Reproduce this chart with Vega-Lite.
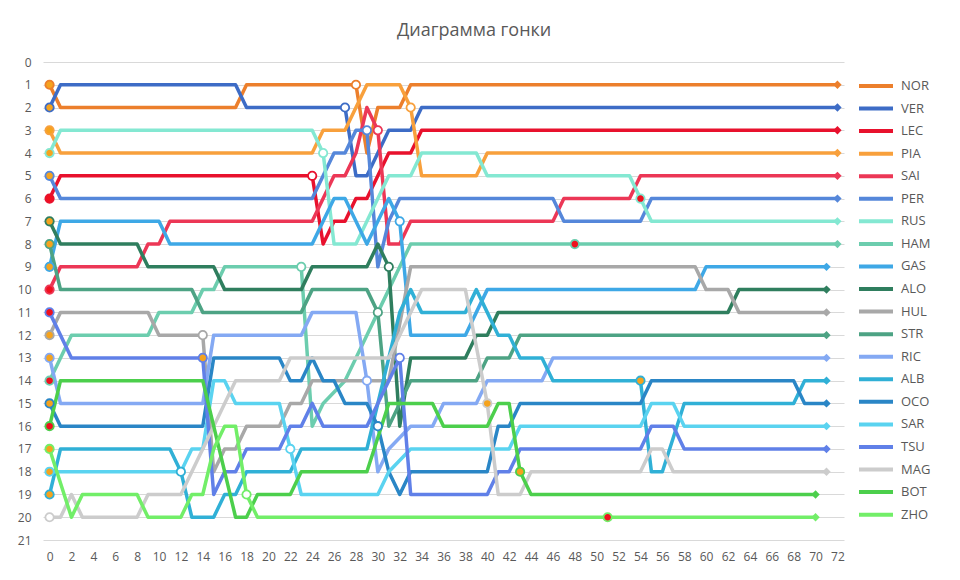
{
  "$schema": "https://vega.github.io/schema/vega-lite/v6.json",
  "width": 801,
  "height": 478,
  "autosize": {"type": "none"},
  "padding": {"left": 43, "top": 62, "right": 116, "bottom": 40},
  "background": "white",
  "title": {"text": "Диаграмма гонки", "fontSize": 18, "font": "Open Sans", "fontWeight": "normal", "color": "#595959", "anchor": "middle", "frame": "bounds", "offset": 16},
  "config": {"view": {"stroke": null}, "font": "Open Sans"},
  "datasets": {
    "race": [
      {"d":"NOR","l":0,"p":1},{"d":"NOR","l":1,"p":2},{"d":"NOR","l":17,"p":2},{"d":"NOR","l":18,"p":1},{"d":"NOR","l":28,"p":1},{"d":"NOR","l":29,"p":4},{"d":"NOR","l":30,"p":2},{"d":"NOR","l":32,"p":2},{"d":"NOR","l":33,"p":1},{"d":"NOR","l":72,"p":1},
      {"d":"VER","l":0,"p":2},{"d":"VER","l":1,"p":1},{"d":"VER","l":17,"p":1},{"d":"VER","l":18,"p":2},{"d":"VER","l":27,"p":2},{"d":"VER","l":28,"p":5},{"d":"VER","l":29,"p":5},{"d":"VER","l":30,"p":4},{"d":"VER","l":31,"p":3},{"d":"VER","l":33,"p":3},{"d":"VER","l":34,"p":2},{"d":"VER","l":72,"p":2},
      {"d":"LEC","l":0,"p":6},{"d":"LEC","l":1,"p":5},{"d":"LEC","l":24,"p":5},{"d":"LEC","l":25,"p":8},{"d":"LEC","l":26,"p":7},{"d":"LEC","l":27,"p":7},{"d":"LEC","l":28,"p":6},{"d":"LEC","l":29,"p":6},{"d":"LEC","l":30,"p":5},{"d":"LEC","l":31,"p":4},{"d":"LEC","l":33,"p":4},{"d":"LEC","l":34,"p":3},{"d":"LEC","l":72,"p":3},
      {"d":"PIA","l":0,"p":3},{"d":"PIA","l":1,"p":4},{"d":"PIA","l":24,"p":4},{"d":"PIA","l":25,"p":3},{"d":"PIA","l":27,"p":3},{"d":"PIA","l":28,"p":2},{"d":"PIA","l":29,"p":1},{"d":"PIA","l":32,"p":1},{"d":"PIA","l":33,"p":2},{"d":"PIA","l":34,"p":5},{"d":"PIA","l":39,"p":5},{"d":"PIA","l":40,"p":4},{"d":"PIA","l":72,"p":4},
      {"d":"SAI","l":0,"p":10},{"d":"SAI","l":1,"p":9},{"d":"SAI","l":8,"p":9},{"d":"SAI","l":9,"p":8},{"d":"SAI","l":10,"p":8},{"d":"SAI","l":11,"p":7},{"d":"SAI","l":24,"p":7},{"d":"SAI","l":25,"p":6},{"d":"SAI","l":26,"p":5},{"d":"SAI","l":27,"p":5},{"d":"SAI","l":28,"p":4},{"d":"SAI","l":29,"p":2},{"d":"SAI","l":30,"p":3},{"d":"SAI","l":31,"p":8},{"d":"SAI","l":32,"p":8},{"d":"SAI","l":33,"p":7},{"d":"SAI","l":46,"p":7},{"d":"SAI","l":47,"p":6},{"d":"SAI","l":53,"p":6},{"d":"SAI","l":54,"p":5},{"d":"SAI","l":72,"p":5},
      {"d":"PER","l":0,"p":5},{"d":"PER","l":1,"p":6},{"d":"PER","l":24,"p":6},{"d":"PER","l":25,"p":5},{"d":"PER","l":26,"p":4},{"d":"PER","l":27,"p":4},{"d":"PER","l":28,"p":3},{"d":"PER","l":29,"p":3},{"d":"PER","l":30,"p":9},{"d":"PER","l":31,"p":7},{"d":"PER","l":32,"p":6},{"d":"PER","l":46,"p":6},{"d":"PER","l":47,"p":7},{"d":"PER","l":54,"p":7},{"d":"PER","l":55,"p":6},{"d":"PER","l":72,"p":6},
      {"d":"RUS","l":0,"p":4},{"d":"RUS","l":1,"p":3},{"d":"RUS","l":24,"p":3},{"d":"RUS","l":25,"p":4},{"d":"RUS","l":26,"p":8},{"d":"RUS","l":28,"p":8},{"d":"RUS","l":29,"p":7},{"d":"RUS","l":30,"p":6},{"d":"RUS","l":31,"p":5},{"d":"RUS","l":33,"p":5},{"d":"RUS","l":34,"p":4},{"d":"RUS","l":39,"p":4},{"d":"RUS","l":40,"p":5},{"d":"RUS","l":53,"p":5},{"d":"RUS","l":54,"p":6},{"d":"RUS","l":55,"p":7},{"d":"RUS","l":72,"p":7},
      {"d":"HAM","l":0,"p":14},{"d":"HAM","l":2,"p":12},{"d":"HAM","l":9,"p":12},{"d":"HAM","l":10,"p":11},{"d":"HAM","l":13,"p":11},{"d":"HAM","l":14,"p":10},{"d":"HAM","l":15,"p":10},{"d":"HAM","l":16,"p":9},{"d":"HAM","l":23,"p":9},{"d":"HAM","l":24,"p":16},{"d":"HAM","l":25,"p":15},{"d":"HAM","l":27,"p":14},{"d":"HAM","l":28,"p":13},{"d":"HAM","l":29,"p":12},{"d":"HAM","l":30,"p":11},{"d":"HAM","l":31,"p":10},{"d":"HAM","l":32,"p":9},{"d":"HAM","l":33,"p":8},{"d":"HAM","l":72,"p":8},
      {"d":"GAS","l":0,"p":9},{"d":"GAS","l":1,"p":7},{"d":"GAS","l":10,"p":7},{"d":"GAS","l":11,"p":8},{"d":"GAS","l":24,"p":8},{"d":"GAS","l":25,"p":7},{"d":"GAS","l":26,"p":6},{"d":"GAS","l":27,"p":6},{"d":"GAS","l":28,"p":7},{"d":"GAS","l":29,"p":8},{"d":"GAS","l":30,"p":7},{"d":"GAS","l":31,"p":6},{"d":"GAS","l":32,"p":7},{"d":"GAS","l":33,"p":12},{"d":"GAS","l":38,"p":12},{"d":"GAS","l":39,"p":11},{"d":"GAS","l":40,"p":10},{"d":"GAS","l":59,"p":10},{"d":"GAS","l":60,"p":9},{"d":"GAS","l":71,"p":9},
      {"d":"ALO","l":0,"p":7},{"d":"ALO","l":1,"p":8},{"d":"ALO","l":8,"p":8},{"d":"ALO","l":9,"p":9},{"d":"ALO","l":15,"p":9},{"d":"ALO","l":16,"p":10},{"d":"ALO","l":23,"p":10},{"d":"ALO","l":24,"p":9},{"d":"ALO","l":29,"p":9},{"d":"ALO","l":30,"p":8},{"d":"ALO","l":31,"p":9},{"d":"ALO","l":32,"p":16},{"d":"ALO","l":33,"p":13},{"d":"ALO","l":38,"p":13},{"d":"ALO","l":39,"p":12},{"d":"ALO","l":40,"p":12},{"d":"ALO","l":41,"p":11},{"d":"ALO","l":62,"p":11},{"d":"ALO","l":63,"p":10},{"d":"ALO","l":71,"p":10},
      {"d":"HUL","l":0,"p":12},{"d":"HUL","l":1,"p":11},{"d":"HUL","l":9,"p":11},{"d":"HUL","l":10,"p":12},{"d":"HUL","l":14,"p":12},{"d":"HUL","l":15,"p":18},{"d":"HUL","l":16,"p":17},{"d":"HUL","l":17,"p":17},{"d":"HUL","l":18,"p":16},{"d":"HUL","l":21,"p":16},{"d":"HUL","l":22,"p":15},{"d":"HUL","l":23,"p":15},{"d":"HUL","l":24,"p":14},{"d":"HUL","l":31,"p":14},{"d":"HUL","l":33,"p":9},{"d":"HUL","l":59,"p":9},{"d":"HUL","l":60,"p":10},{"d":"HUL","l":62,"p":10},{"d":"HUL","l":63,"p":11},{"d":"HUL","l":71,"p":11},
      {"d":"STR","l":0,"p":8},{"d":"STR","l":1,"p":10},{"d":"STR","l":13,"p":10},{"d":"STR","l":14,"p":11},{"d":"STR","l":23,"p":11},{"d":"STR","l":24,"p":10},{"d":"STR","l":29,"p":10},{"d":"STR","l":30,"p":11},{"d":"STR","l":31,"p":16},{"d":"STR","l":32,"p":15},{"d":"STR","l":33,"p":14},{"d":"STR","l":39,"p":14},{"d":"STR","l":40,"p":13},{"d":"STR","l":42,"p":13},{"d":"STR","l":43,"p":12},{"d":"STR","l":71,"p":12},
      {"d":"RIC","l":0,"p":13},{"d":"RIC","l":1,"p":15},{"d":"RIC","l":14,"p":15},{"d":"RIC","l":15,"p":12},{"d":"RIC","l":23,"p":12},{"d":"RIC","l":24,"p":11},{"d":"RIC","l":28,"p":11},{"d":"RIC","l":29,"p":14},{"d":"RIC","l":30,"p":18},{"d":"RIC","l":31,"p":17},{"d":"RIC","l":33,"p":16},{"d":"RIC","l":35,"p":16},{"d":"RIC","l":36,"p":15},{"d":"RIC","l":39,"p":15},{"d":"RIC","l":40,"p":14},{"d":"RIC","l":45,"p":14},{"d":"RIC","l":46,"p":13},{"d":"RIC","l":71,"p":13},
      {"d":"ALB","l":0,"p":19},{"d":"ALB","l":1,"p":17},{"d":"ALB","l":11,"p":17},{"d":"ALB","l":12,"p":18},{"d":"ALB","l":13,"p":20},{"d":"ALB","l":15,"p":20},{"d":"ALB","l":16,"p":19},{"d":"ALB","l":17,"p":19},{"d":"ALB","l":18,"p":18},{"d":"ALB","l":22,"p":18},{"d":"ALB","l":23,"p":17},{"d":"ALB","l":29,"p":17},{"d":"ALB","l":30,"p":15},{"d":"ALB","l":31,"p":13},{"d":"ALB","l":32,"p":11},{"d":"ALB","l":33,"p":10},{"d":"ALB","l":34,"p":11},{"d":"ALB","l":38,"p":11},{"d":"ALB","l":39,"p":10},{"d":"ALB","l":40,"p":11},{"d":"ALB","l":41,"p":12},{"d":"ALB","l":42,"p":12},{"d":"ALB","l":43,"p":13},{"d":"ALB","l":45,"p":13},{"d":"ALB","l":46,"p":14},{"d":"ALB","l":54,"p":14},{"d":"ALB","l":55,"p":18},{"d":"ALB","l":56,"p":18},{"d":"ALB","l":58,"p":15},{"d":"ALB","l":68,"p":15},{"d":"ALB","l":69,"p":14},{"d":"ALB","l":71,"p":14},
      {"d":"OCO","l":0,"p":15},{"d":"OCO","l":1,"p":16},{"d":"OCO","l":14,"p":16},{"d":"OCO","l":15,"p":13},{"d":"OCO","l":21,"p":13},{"d":"OCO","l":22,"p":14},{"d":"OCO","l":23,"p":14},{"d":"OCO","l":24,"p":13},{"d":"OCO","l":25,"p":14},{"d":"OCO","l":26,"p":14},{"d":"OCO","l":27,"p":15},{"d":"OCO","l":29,"p":15},{"d":"OCO","l":30,"p":16},{"d":"OCO","l":31,"p":18},{"d":"OCO","l":32,"p":19},{"d":"OCO","l":33,"p":18},{"d":"OCO","l":40,"p":18},{"d":"OCO","l":41,"p":16},{"d":"OCO","l":42,"p":16},{"d":"OCO","l":43,"p":15},{"d":"OCO","l":54,"p":15},{"d":"OCO","l":55,"p":14},{"d":"OCO","l":68,"p":14},{"d":"OCO","l":69,"p":15},{"d":"OCO","l":71,"p":15},
      {"d":"SAR","l":0,"p":18},{"d":"SAR","l":12,"p":18},{"d":"SAR","l":13,"p":17},{"d":"SAR","l":14,"p":17},{"d":"SAR","l":15,"p":14},{"d":"SAR","l":16,"p":14},{"d":"SAR","l":17,"p":15},{"d":"SAR","l":21,"p":15},{"d":"SAR","l":22,"p":17},{"d":"SAR","l":23,"p":19},{"d":"SAR","l":30,"p":19},{"d":"SAR","l":31,"p":18},{"d":"SAR","l":33,"p":17},{"d":"SAR","l":42,"p":17},{"d":"SAR","l":43,"p":16},{"d":"SAR","l":54,"p":16},{"d":"SAR","l":55,"p":15},{"d":"SAR","l":57,"p":15},{"d":"SAR","l":58,"p":16},{"d":"SAR","l":71,"p":16},
      {"d":"TSU","l":0,"p":11},{"d":"TSU","l":2,"p":13},{"d":"TSU","l":14,"p":13},{"d":"TSU","l":15,"p":19},{"d":"TSU","l":16,"p":18},{"d":"TSU","l":17,"p":18},{"d":"TSU","l":18,"p":17},{"d":"TSU","l":21,"p":17},{"d":"TSU","l":22,"p":16},{"d":"TSU","l":23,"p":16},{"d":"TSU","l":24,"p":15},{"d":"TSU","l":25,"p":16},{"d":"TSU","l":29,"p":16},{"d":"TSU","l":30,"p":15},{"d":"TSU","l":31,"p":14},{"d":"TSU","l":32,"p":13},{"d":"TSU","l":33,"p":19},{"d":"TSU","l":40,"p":19},{"d":"TSU","l":41,"p":18},{"d":"TSU","l":42,"p":18},{"d":"TSU","l":43,"p":17},{"d":"TSU","l":54,"p":17},{"d":"TSU","l":55,"p":16},{"d":"TSU","l":57,"p":16},{"d":"TSU","l":58,"p":17},{"d":"TSU","l":71,"p":17},
      {"d":"MAG","l":0,"p":20},{"d":"MAG","l":1,"p":20},{"d":"MAG","l":2,"p":19},{"d":"MAG","l":3,"p":20},{"d":"MAG","l":8,"p":20},{"d":"MAG","l":9,"p":19},{"d":"MAG","l":12,"p":19},{"d":"MAG","l":13,"p":18},{"d":"MAG","l":14,"p":17},{"d":"MAG","l":15,"p":16},{"d":"MAG","l":16,"p":15},{"d":"MAG","l":17,"p":14},{"d":"MAG","l":21,"p":14},{"d":"MAG","l":22,"p":13},{"d":"MAG","l":31,"p":13},{"d":"MAG","l":32,"p":12},{"d":"MAG","l":33,"p":11},{"d":"MAG","l":34,"p":10},{"d":"MAG","l":38,"p":10},{"d":"MAG","l":40,"p":15},{"d":"MAG","l":41,"p":19},{"d":"MAG","l":43,"p":19},{"d":"MAG","l":44,"p":18},{"d":"MAG","l":54,"p":18},{"d":"MAG","l":55,"p":17},{"d":"MAG","l":56,"p":17},{"d":"MAG","l":57,"p":18},{"d":"MAG","l":71,"p":18},
      {"d":"BOT","l":0,"p":16},{"d":"BOT","l":1,"p":14},{"d":"BOT","l":14,"p":14},{"d":"BOT","l":17,"p":20},{"d":"BOT","l":18,"p":20},{"d":"BOT","l":19,"p":19},{"d":"BOT","l":22,"p":19},{"d":"BOT","l":23,"p":18},{"d":"BOT","l":29,"p":18},{"d":"BOT","l":31,"p":15},{"d":"BOT","l":35,"p":15},{"d":"BOT","l":36,"p":16},{"d":"BOT","l":40,"p":16},{"d":"BOT","l":41,"p":15},{"d":"BOT","l":42,"p":15},{"d":"BOT","l":43,"p":18},{"d":"BOT","l":44,"p":19},{"d":"BOT","l":70,"p":19},
      {"d":"ZHO","l":0,"p":17},{"d":"ZHO","l":2,"p":20},{"d":"ZHO","l":3,"p":19},{"d":"ZHO","l":8,"p":19},{"d":"ZHO","l":9,"p":20},{"d":"ZHO","l":12,"p":20},{"d":"ZHO","l":13,"p":19},{"d":"ZHO","l":14,"p":19},{"d":"ZHO","l":15,"p":17},{"d":"ZHO","l":16,"p":16},{"d":"ZHO","l":17,"p":16},{"d":"ZHO","l":18,"p":19},{"d":"ZHO","l":19,"p":20},{"d":"ZHO","l":70,"p":20}
    ],
    "marks": [
      {"d":"NOR","l":0,"p":1,"t":"M"},{"d":"VER","l":0,"p":2,"t":"M"},{"d":"PIA","l":0,"p":3,"t":"M"},{"d":"RUS","l":0,"p":4,"t":"M"},{"d":"PER","l":0,"p":5,"t":"M"},{"d":"LEC","l":0,"p":6,"t":"S"},{"d":"ALO","l":0,"p":7,"t":"M"},{"d":"STR","l":0,"p":8,"t":"M"},{"d":"GAS","l":0,"p":9,"t":"M"},{"d":"SAI","l":0,"p":10,"t":"S"},{"d":"TSU","l":0,"p":11,"t":"S"},{"d":"HUL","l":0,"p":12,"t":"M"},{"d":"RIC","l":0,"p":13,"t":"M"},{"d":"HAM","l":0,"p":14,"t":"S"},{"d":"OCO","l":0,"p":15,"t":"M"},{"d":"BOT","l":0,"p":16,"t":"S"},{"d":"ZHO","l":0,"p":17,"t":"M"},{"d":"SAR","l":0,"p":18,"t":"M"},{"d":"ALB","l":0,"p":19,"t":"M"},{"d":"MAG","l":0,"p":20,"t":"H"},
      {"d":"ALB","l":12,"p":18,"t":"H"},{"d":"HUL","l":14,"p":12,"t":"H"},{"d":"TSU","l":14,"p":13,"t":"M"},{"d":"ZHO","l":18,"p":19,"t":"H"},{"d":"SAR","l":22,"p":17,"t":"H"},{"d":"HAM","l":23,"p":9,"t":"H"},{"d":"LEC","l":24,"p":5,"t":"H"},{"d":"RUS","l":25,"p":4,"t":"H"},{"d":"VER","l":27,"p":2,"t":"H"},{"d":"NOR","l":28,"p":1,"t":"H"},{"d":"PER","l":29,"p":3,"t":"H"},{"d":"RIC","l":29,"p":14,"t":"H"},{"d":"SAI","l":30,"p":3,"t":"H"},{"d":"STR","l":30,"p":11,"t":"H"},{"d":"OCO","l":30,"p":16,"t":"H"},{"d":"ALO","l":31,"p":9,"t":"H"},{"d":"GAS","l":32,"p":7,"t":"H"},{"d":"TSU","l":32,"p":13,"t":"H"},{"d":"PIA","l":33,"p":2,"t":"H"},{"d":"MAG","l":40,"p":15,"t":"M"},{"d":"BOT","l":43,"p":18,"t":"M"},{"d":"HAM","l":48,"p":8,"t":"S"},{"d":"ZHO","l":51,"p":20,"t":"S"},{"d":"RUS","l":54,"p":6,"t":"S"},{"d":"ALB","l":54,"p":14,"t":"M"}
    ]
  },
  "encoding": {
    "x": {"field": "l", "type": "quantitative", "scale": {"domain": [-0.6, 72.6], "nice": false, "zero": false},
          "axis": {"values": [0,2,4,6,8,10,12,14,16,18,20,22,24,26,28,30,32,34,36,38,40,42,44,46,48,50,52,54,56,58,60,62,64,66,68,70,72], "labelOverlap": false, "title": null, "grid": false, "ticks": false, "domain": false, "labelFontSize": 12, "labelColor": "#595959", "labelPadding": 11, "labelFont": "Open Sans"}},
    "y": {"field": "p", "type": "quantitative", "scale": {"domain": [0, 21], "reverse": true, "nice": false, "zero": false},
          "axis": {"values": [0,1,2,3,4,5,6,7,8,9,10,11,12,13,14,15,16,17,18,19,20,21], "labelOverlap": false, "title": null, "grid": true, "gridColor": "#D9D9D9", "gridWidth": 1, "ticks": false, "domain": false, "labelFontSize": 12, "labelColor": "#595959", "labelPadding": 12, "labelFont": "Open Sans"}}
  },
  "layer": [
    {
      "data": {"name": "race"},
      "mark": {"type": "line", "strokeWidth": 3.5, "strokeJoin": "round", "strokeCap": "round", "interpolate": "linear"},
      "encoding": {
        "color": {"field": "d", "type": "nominal",
                  "scale": {"domain": ["NOR","VER","LEC","PIA","SAI","PER","RUS","HAM","GAS","ALO","HUL","STR","RIC","ALB","OCO","SAR","TSU","MAG","BOT","ZHO"],
                            "range": ["#EC7F2C","#3D6CC6","#E8112D","#F8A03C","#EC3756","#5587DA","#84E8D2","#6CCDAE","#3EA8E6","#2F7E5E","#A8A8A8","#4DA384","#84A9F3","#30B0D6","#2A86C6","#5AD3F0","#6080E8","#CCCCCC","#4CCF4C","#72EE68"]},
                  "legend": {"orient": "none", "legendX": 821, "legendY": 12, "direction": "vertical", "title": null, "symbolType": "M-1.7,0H1.7", "symbolStrokeWidth": 4, "symbolSize": 400, "labelFontSize": 13, "labelColor": "#595959", "labelFont": "Open Sans", "rowPadding": 2.56, "labelOffset": 13, "padding": 0}},
        "order": {"field": "l", "type": "quantitative"}
      }
    },
    {
      "data": {"name": "race"},
      "transform": [
        {"joinaggregate": [{"op": "max", "field": "l", "as": "last"}], "groupby": ["d"]},
        {"filter": "datum.l == datum.last"}
      ],
      "mark": {"type": "point", "shape": "diamond", "filled": true, "size": 70, "opacity": 1},
      "encoding": {
        "color": {"field": "d", "type": "nominal", "legend": null}
      }
    },
    {
      "data": {"name": "marks"},
      "mark": {"type": "point", "shape": "circle", "filled": true, "size": 70, "strokeWidth": 1.8, "opacity": 1},
      "encoding": {
        "fill": {"field": "t", "type": "nominal", "scale": {"domain": ["S","M","H"], "range": ["#F0101E","#F5A31E","#FFFFFF"]}, "legend": null},
        "stroke": {"field": "d", "type": "nominal",
                   "scale": {"domain": ["NOR","VER","LEC","PIA","SAI","PER","RUS","HAM","GAS","ALO","HUL","STR","RIC","ALB","OCO","SAR","TSU","MAG","BOT","ZHO"],
                             "range": ["#EC7F2C","#3D6CC6","#E8112D","#F8A03C","#EC3756","#5587DA","#84E8D2","#6CCDAE","#3EA8E6","#2F7E5E","#A8A8A8","#4DA384","#84A9F3","#30B0D6","#2A86C6","#5AD3F0","#6080E8","#CCCCCC","#4CCF4C","#72EE68"]},
                   "legend": null}
      }
    }
  ]
}
